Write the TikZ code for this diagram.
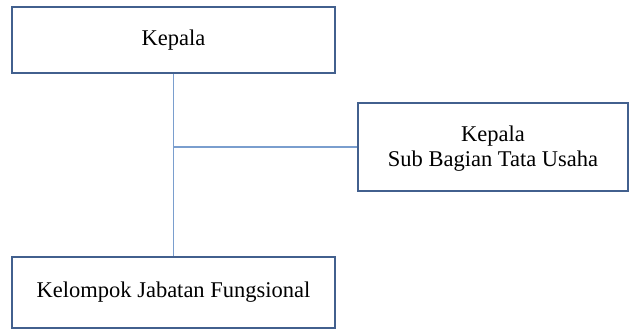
\documentclass[tikz,border=0pt]{standalone}
\usepackage{fontspec}
\setmainfont{Liberation Serif}
\usepackage{tikz}
\usetikzlibrary{positioning, calc}
\definecolor{boxblue}{RGB}{66,96,142}
\definecolor{lineblue}{RGB}{122,158,206}

\begin{document}
\begin{tikzpicture}[x=1pt, y=-1pt,
    unitbox/.style={rectangle, draw=boxblue, line width=2pt, fill=white, align=center,
        font=\fontsize{22.5}{24.5}\selectfont, inner sep=0pt},
    link/.style={draw=lineblue, line width=1.4pt}]
    \useasboundingbox (0,0) rectangle (630,331);

    % Boxes
    \node[unitbox, minimum width=323pt, minimum height=66pt] (kepala) at (173.5, 40) {Kepala};
    \node[unitbox, minimum width=270pt, minimum height=88pt, text depth=2pt] (tatausaha) at (493, 147) {Kepala\\Sub Bagian Tata Usaha};
    \node[unitbox, minimum width=323pt, minimum height=71pt] (fungsional) at (173.5, 292.5) {Kelompok Jabatan Fungsional};

    % Connectors
    \coordinate (junction) at (kepala.south |- tatausaha.west);
    \draw[link] (kepala) -- (fungsional);
    \draw[link] (junction) -- (tatausaha);
\end{tikzpicture}
\end{document}
